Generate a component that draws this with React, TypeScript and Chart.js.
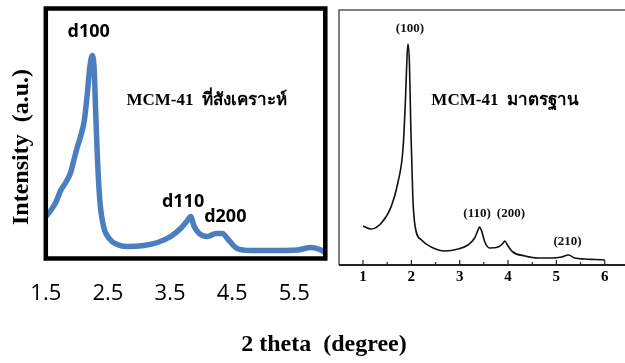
import React, { useEffect, useRef } from "react";
import { Chart, registerables } from "chart.js";

Chart.register(...registerables);

// ---------- Left panel: synthesized MCM-41 ----------
const SYN_THETA = [1.5, 1.58, 1.66, 1.74, 1.82, 1.9, 1.95, 2.01, 2.06, 2.12, 2.17, 2.21, 2.25, 2.28, 2.3, 2.33, 2.37, 2.43, 2.52, 2.65, 2.81, 3.08, 3.3, 3.51, 3.67, 3.78, 3.83, 3.89, 3.97, 4.1, 4.24, 4.34, 4.45, 4.58, 4.8, 5.23, 5.55, 5.77, 5.93, 6.0];
const SYN_INTENSITY = [42, 48, 56, 68, 76, 86, 98, 112, 122, 138, 166, 192, 203, 188, 152, 102, 58, 32, 20, 14, 12, 13, 16, 22, 30, 38, 42, 32, 25, 22, 25, 25, 18, 10, 8, 8, 8.5, 11, 8.5, 5.5];
const SYN_TICKS = [1.5, 2.5, 3.5, 4.5, 5.5];
const SYN_TICK_LABELS = ["1.5", "2.5", "3.5", "4.5", "5.5"];
const SYN_NOTE_TEXT = ["d100", "d110", "d200"];
const SYN_NOTE_X = [2.19, 3.71, 4.39];
const SYN_NOTE_Y = [226.5, 56.5, 41.5];
const SYN_TITLE = "MCM-41  ที่สังเคราะห์";
const SYN_TITLE_X = 4.09;
const SYN_TITLE_Y = 157.5;

// ---------- Right panel: standard MCM-41 ----------
const STD_THETA = [1.0, 1.17, 1.38, 1.58, 1.72, 1.83, 1.88, 1.91, 1.93, 1.96, 1.99, 2.03, 2.08, 2.21, 2.41, 2.69, 2.97, 3.17, 3.31, 3.38, 3.41, 3.46, 3.52, 3.62, 3.8, 3.9, 3.93, 4.0, 4.1, 4.35, 4.62, 4.9, 5.11, 5.25, 5.38, 5.59, 5.8, 6.0];
const STD_INTENSITY = [39, 36, 42, 58, 82, 118, 168, 208, 221, 202, 135, 68, 38, 25, 18, 14, 16, 20, 27, 35, 38, 33, 23, 17, 18, 22, 24, 19, 13, 9, 7, 7, 8, 10, 7, 6, 5.5, 5];
const STD_TICKS = [1, 2, 3, 4, 5, 6];
const STD_TICK_LABELS = ["1", "2", "3", "4", "5", "6"];
const STD_MINOR_TICKS = [1.5, 2.5, 3.5, 4.5, 5.5];
const STD_NOTE_TEXT = ["(100)", "(110)", "(200)", "(210)"];
const STD_NOTE_X = [1.97, 3.36, 4.06, 5.23];
const STD_NOTE_Y = [236, 51, 51, 23];
const STD_TITLE = "MCM-41  มาตรฐาน";
const STD_TITLE_X = 3.94;
const STD_TITLE_Y = 164;

const Y_TITLE = "Intensity  (a.u.)";
const X_TITLE = "2 theta  (degree)";

const SERIF = "'Liberation Serif', 'Times New Roman', serif";
const SANS = "'Open Sans', 'Liberation Sans', sans-serif";

const leftDecor = {
  id: "leftDecor",
  afterDatasetsDraw(chart: any) {
    const { ctx, chartArea: a, scales } = chart;
    const xs = scales.x;
    const ys = scales.y;
    ctx.save();
    ctx.fillStyle = "#000";
    ctx.textAlign = "center";
    ctx.textBaseline = "middle";
    ctx.font = `bold 18px ${SANS}`;
    SYN_NOTE_TEXT.forEach((t, i) => {
      ctx.fillText(t, xs.getPixelForValue(SYN_NOTE_X[i]), ys.getPixelForValue(SYN_NOTE_Y[i]));
    });
    ctx.font = `bold 17px ${SERIF}`;
    ctx.fillText(SYN_TITLE, xs.getPixelForValue(SYN_TITLE_X), ys.getPixelForValue(SYN_TITLE_Y));

    // frame
    ctx.lineWidth = 4.5;
    ctx.strokeStyle = "#000";
    ctx.strokeRect(a.left, a.top, a.right - a.left, a.bottom - a.top);

    // shared axis titles
    ctx.font = `bold 24px ${SERIF}`;
    ctx.save();
    ctx.translate(22, 147);
    ctx.rotate(-Math.PI / 2);
    ctx.fillText(Y_TITLE, 0, 0);
    ctx.restore();
    ctx.fillText(X_TITLE, 324, 345);
    ctx.restore();
  },
};

const rightDecor = {
  id: "rightDecor",
  afterDatasetsDraw(chart: any) {
    const { ctx, chartArea: a, scales } = chart;
    const xs = scales.x;
    const ys = scales.y;
    ctx.save();
    // top and left frame lines
    ctx.strokeStyle = "#555";
    ctx.lineWidth = 1.5;
    ctx.beginPath();
    ctx.moveTo(a.left, a.bottom);
    ctx.lineTo(a.left, a.top);
    ctx.lineTo(a.right, a.top);
    ctx.stroke();
    // bottom axis
    ctx.strokeStyle = "#222";
    ctx.lineWidth = 1.8;
    ctx.beginPath();
    ctx.moveTo(a.left, a.bottom);
    ctx.lineTo(a.right, a.bottom);
    ctx.stroke();
    // inward ticks
    ctx.lineWidth = 1.2;
    ctx.beginPath();
    STD_TICKS.forEach((v) => {
      const px = xs.getPixelForValue(v);
      ctx.moveTo(px, a.bottom);
      ctx.lineTo(px, a.bottom - 5);
    });
    STD_MINOR_TICKS.forEach((v) => {
      const px = xs.getPixelForValue(v);
      ctx.moveTo(px, a.bottom);
      ctx.lineTo(px, a.bottom - 3);
    });
    ctx.stroke();
    // annotations
    ctx.fillStyle = "#111";
    ctx.textAlign = "center";
    ctx.textBaseline = "middle";
    ctx.font = `bold 13px ${SERIF}`;
    STD_NOTE_TEXT.forEach((t, i) => {
      ctx.fillText(t, xs.getPixelForValue(STD_NOTE_X[i]), ys.getPixelForValue(STD_NOTE_Y[i]));
    });
    ctx.font = `bold 17px ${SERIF}`;
    ctx.fillStyle = "#000";
    ctx.fillText(STD_TITLE, xs.getPixelForValue(STD_TITLE_X), ys.getPixelForValue(STD_TITLE_Y));
    ctx.restore();
  },
};

export default function App() {
  const leftRef = useRef<HTMLCanvasElement>(null);
  const rightRef = useRef<HTMLCanvasElement>(null);

  useEffect(() => {
    const left = new Chart(leftRef.current as HTMLCanvasElement, {
      type: "line",
      data: {
        datasets: [
          {
            data: SYN_THETA.map((x, i) => ({ x, y: SYN_INTENSITY[i] })),
            borderColor: "#4A7EBF",
            borderWidth: 5.5,
            pointRadius: 0,
            cubicInterpolationMode: "monotone",
            fill: false,
          },
        ],
      },
      options: {
        responsive: false,
        animation: false,
        devicePixelRatio: 1,
        layout: { padding: { left: 45.8, top: 8.5, right: 299.7, bottom: 0 } },
        plugins: { legend: { display: false }, tooltip: { enabled: false } },
        scales: {
          x: {
            type: "linear",
            min: 1.5,
            max: 6.0,
            grid: { display: false, drawTicks: false },
            border: { display: false },
            afterBuildTicks: (s: any) => {
              s.ticks = SYN_TICKS.map((v) => ({ value: v }));
            },
            afterFit: (s: any) => {
              s.height = 104.5;
            },
            ticks: {
              autoSkip: false,
              maxRotation: 0,
              padding: 22,
              color: "#000",
              font: { family: SANS, size: 22 },
              callback: (v: any) => {
                const i = SYN_TICKS.indexOf(Number(v));
                return i >= 0 ? SYN_TICK_LABELS[i] : "";
              },
            },
          },
          y: { display: false, min: 0, max: 250 },
        },
      } as any,
      plugins: [leftDecor],
    });

    const right = new Chart(rightRef.current as HTMLCanvasElement, {
      type: "line",
      data: {
        datasets: [
          {
            data: STD_THETA.map((x, i) => ({ x, y: STD_INTENSITY[i] })),
            borderColor: "#111",
            borderWidth: 1.6,
            pointRadius: 0,
            cubicInterpolationMode: "monotone",
            fill: false,
          },
        ],
      },
      options: {
        responsive: false,
        animation: false,
        devicePixelRatio: 1,
        layout: { padding: { left: 9, top: 10, right: 0, bottom: 0 } },
        plugins: { legend: { display: false }, tooltip: { enabled: false } },
        scales: {
          x: {
            type: "linear",
            min: 0.503,
            max: 6.42,
            grid: { display: false, drawTicks: false },
            border: { display: false },
            afterBuildTicks: (s: any) => {
              s.ticks = STD_TICKS.map((v) => ({ value: v }));
            },
            afterFit: (s: any) => {
              s.height = 98;
            },
            ticks: {
              autoSkip: false,
              maxRotation: 0,
              padding: 3,
              color: "#000",
              font: { family: SERIF, size: 15, weight: "bold" },
              callback: (v: any) => {
                const i = STD_TICKS.indexOf(Number(v));
                return i >= 0 ? STD_TICK_LABELS[i] : "";
              },
            },
          },
          y: { display: false, min: 0, max: 255 },
        },
      } as any,
      plugins: [rightDecor],
    });

    return () => {
      left.destroy();
      right.destroy();
    };
  }, []);

  return (
    <div style={{ position: "absolute", left: 0, top: 0, width: 625, height: 363, background: "#fff" }}>
      <canvas ref={leftRef} width={625} height={363} style={{ position: "absolute", left: 0, top: 0 }} />
      <canvas ref={rightRef} width={295} height={363} style={{ position: "absolute", left: 330, top: 0 }} />
    </div>
  );
}
